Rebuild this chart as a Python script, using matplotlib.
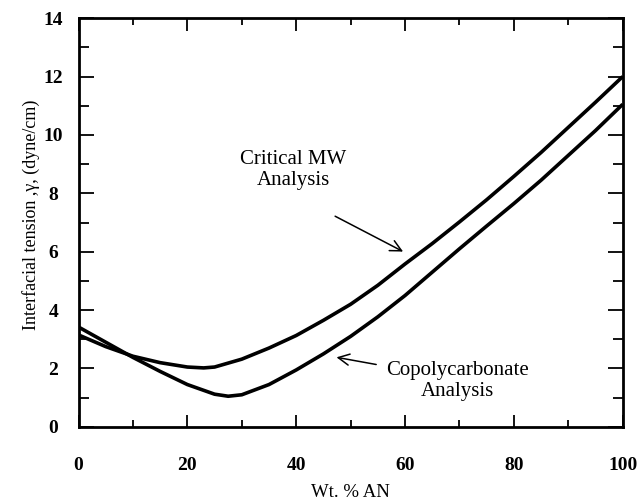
import matplotlib
matplotlib.use("Agg")
import matplotlib.pyplot as plt
from matplotlib.ticker import MultipleLocator

plt.rcParams['font.family'] = ['Liberation Serif', 'DejaVu Serif']

# Critical MW analysis curve
crit_x = [0, 5, 10, 15, 20, 23, 25, 30, 35, 40, 45, 50, 55, 60, 65, 70, 75, 80, 85, 90, 95, 100]
crit_y = [3.15, 2.75, 2.42, 2.2, 2.05, 2.02, 2.05, 2.32, 2.7, 3.13, 3.65, 4.2, 4.85, 5.58,
          6.28, 7.02, 7.78, 8.58, 9.4, 10.26, 11.12, 12.0]

# Copolycarbonate analysis curve
copo_x = [0, 5, 10, 15, 20, 25, 27.5, 30, 35, 40, 45, 50, 55, 60, 65, 70, 75, 80, 85, 90, 95, 100]
copo_y = [3.42, 2.9, 2.38, 1.9, 1.45, 1.12, 1.05, 1.1, 1.45, 1.95, 2.5, 3.1, 3.77, 4.5,
          5.3, 6.1, 6.88, 7.65, 8.45, 9.3, 10.15, 11.05]

fig = plt.figure(figsize=(6.41, 5.04), dpi=100)
ax = fig.add_axes([0.1225, 0.153, 0.849, 0.811])

ax.plot(crit_x, crit_y, color='black', lw=2.6, solid_capstyle='butt')
ax.plot(copo_x, copo_y, color='black', lw=2.6, solid_capstyle='butt')

ax.set_xlim(0, 100)
ax.set_ylim(0, 14)

for s in ax.spines.values():
    s.set_linewidth(2)

ax.xaxis.set_major_locator(MultipleLocator(20))
ax.xaxis.set_minor_locator(MultipleLocator(10))
ax.yaxis.set_major_locator(MultipleLocator(2))
ax.yaxis.set_minor_locator(MultipleLocator(1))

ax.tick_params(axis='x', which='both', direction='in', top=True, width=1.3, pad=22)
ax.tick_params(axis='x', which='major', length=9)
ax.tick_params(axis='x', which='minor', length=5)
ax.tick_params(axis='y', which='both', direction='in', right=True, width=1.3, pad=18)
ax.tick_params(axis='y', which='major', length=11)
ax.tick_params(axis='y', which='minor', length=7)

for lab in ax.get_xticklabels() + ax.get_yticklabels():
    lab.set_fontweight('bold')
    lab.set_fontsize(14)
for lab in ax.get_yticklabels():
    lab.set_horizontalalignment('center')

ax.set_xlabel('Wt. % AN', fontsize=13.5)
ax.xaxis.set_label_coords(0.5, -0.14)
ax.set_ylabel('Interfacial tension ,γ, (dyne/cm)', fontsize=13)
ax.yaxis.set_label_coords(-0.07, 0.52)

ax.text(39.5, 8.8, 'Critical MW\nAnalysis', ha='center', va='center', fontsize=15,
        linespacing=1.15)
ax.annotate('', xy=(60.1, 5.96), xytext=(46.7, 7.26),
            arrowprops=dict(arrowstyle='->', lw=1.1, color='black', mutation_scale=20))

ax.text(69.7, 1.58, 'Copolycarbonate\nAnalysis', ha='center', va='center', fontsize=15,
        linespacing=1.15)
ax.annotate('', xy=(46.9, 2.4), xytext=(55.2, 2.12),
            arrowprops=dict(arrowstyle='->', lw=1.1, color='black', mutation_scale=20))

fig.savefig('out.png', dpi=100)
